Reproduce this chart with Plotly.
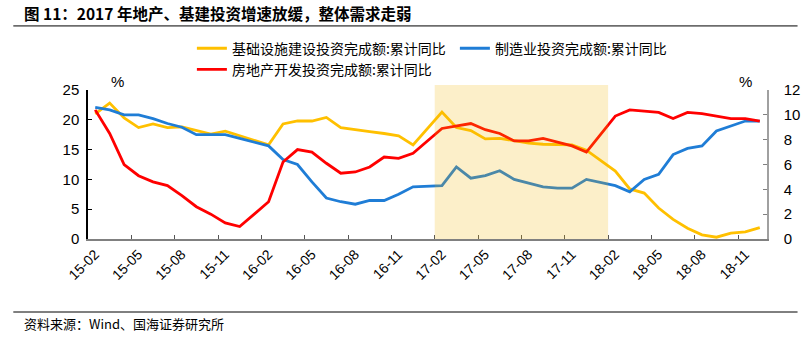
import plotly.graph_objects as go

months = ["15-02","15-03","15-04","15-05","15-06","15-07","15-08","15-09","15-10","15-11","15-12",
          "16-01","16-02","16-03","16-04","16-05","16-06","16-07","16-08","16-09","16-10","16-11","16-12",
          "17-01","17-02","17-03","17-04","17-05","17-06","17-07","17-08","17-09","17-10","17-11","17-12",
          "18-01","18-02","18-03","18-04","18-05","18-06","18-07","18-08","18-09","18-10","18-11","18-12"]

infra = [21.0, 22.8, 20.3, 18.7, 19.3, 18.7, 18.8, 18.2, 17.6, 18.1, 17.3,
         None, 15.8, 19.3, 19.8, 19.8, 20.4, 18.7, 18.3, 18.0, 17.7, 17.3, 15.8,
         None, 21.3, 18.7, 18.2, 16.8, 16.9, 16.5, 16.1, 15.9, 15.9, 15.8, 14.9,
         None, 11.4, 8.4, 7.7, 5.2, 3.3, 1.8, 0.7, 0.3, 1.0, 1.2, 1.9]

manuf = [10.6, 10.4, 10.0, 10.0, 9.7, 9.3, 9.0, 8.4, 8.4, 8.4, 8.1,
         None, 7.5, 6.4, 6.0, 4.6, 3.3, 3.0, 2.8, 3.1, 3.1, 3.6, 4.2,
         None, 4.3, 5.8, 4.9, 5.1, 5.5, 4.8, 4.5, 4.2, 4.1, 4.1, 4.8,
         None, 4.3, 3.8, 4.8, 5.2, 6.8, 7.3, 7.5, 8.7, 9.1, 9.5, 9.5]

realestate = [10.4, 8.5, 6.0, 5.1, 4.6, 4.3, 3.5, 2.6, 2.0, 1.3, 1.0,
              None, 3.0, 6.2, 7.2, 7.0, 6.1, 5.3, 5.4, 5.8, 6.6, 6.5, 6.9,
              None, 8.9, 9.1, 9.3, 8.8, 8.5, 7.9, 7.9, 8.1, 7.8, 7.5, 7.0,
              None, 9.9, 10.4, 10.3, 10.2, 9.7, 10.2, 10.1, 9.9, 9.7, 9.7, 9.5]

names = ["基础设施建设投资完成额:累计同比", "制造业投资完成额:累计同比", "房地产开发投资完成额:累计同比"]
colors = ["#FFC000", "#1F7DD6", "#FF0000"]

tick_labels = months[::3]
tick_pos = [months.index(m) for m in tick_labels]
xc = [i + 0.5 for i in range(len(months))]

band_start, band_end = "17-02", "18-02"

CJK = "Noto Sans CJK SC"
LAT = "Liberation Sans"

fig = go.Figure()
fig.add_trace(go.Scatter(x=xc, y=infra, name=names[0], mode="lines", connectgaps=True,
                         line=dict(color=colors[0], width=2.8), yaxis="y"))
fig.add_trace(go.Scatter(x=xc, y=manuf, name=names[1], mode="lines", connectgaps=True,
                         line=dict(color=colors[1], width=2.8), yaxis="y2"))
fig.add_trace(go.Scatter(x=xc, y=realestate, name=names[2], mode="lines", connectgaps=True,
                         line=dict(color=colors[2], width=2.8), yaxis="y2"))

fig.add_shape(type="rect", xref="x", yref="paper",
              x0=months.index(band_start), x1=months.index(band_end), y0=0, y1=1.034,
              fillcolor="rgba(240,178,0,0.21)", line=dict(width=0), layer="above")

# rules
fig.add_shape(type="line", xref="paper", yref="paper", x0=-0.11, x1=1.045, y0=1.43, y1=1.43,
              line=dict(color="#000000", width=1))
fig.add_shape(type="line", xref="paper", yref="paper", x0=-0.11, x1=1.045, y0=-0.49, y1=-0.49,
              line=dict(color="#000000", width=1))

fig.add_annotation(text="图 11：2017 年地产、基建投资增速放缓，整体需求走弱", xref="paper", yref="paper",
                   x=-0.0968, y=1.517, xanchor="left", yanchor="middle", showarrow=False,
                   font=dict(family=CJK, size=15.5, color="#000000", weight="bold"))
fig.add_annotation(text="资料来源：Wind、国海证券研究所", xref="paper", yref="paper",
                   x=-0.0968, y=-0.564, xanchor="left", yanchor="middle", showarrow=False,
                   font=dict(family=CJK, size=13, color="#000000"))
fig.add_annotation(text="%", xref="paper", yref="paper", x=0.044, y=1.054, xanchor="center",
                   yanchor="middle", showarrow=False, font=dict(family=LAT, size=15, color="#000000"))
fig.add_annotation(text="%", xref="paper", yref="paper", x=0.969, y=1.054, xanchor="center",
                   yanchor="middle", showarrow=False, font=dict(family=LAT, size=15, color="#000000"))

fig.update_layout(
    width=812, height=343, autosize=False,
    margin=dict(l=88, r=42, t=90, b=104),
    paper_bgcolor="white", plot_bgcolor="white",
    showlegend=True,
    legend=dict(orientation="h", x=0.153, y=1.385, xanchor="left", yanchor="top",
                entrywidth=218, entrywidthmode="pixels", traceorder="normal",
                font=dict(family=CJK, size=14, color="#000000"),
                bgcolor="rgba(0,0,0,0)", itemwidth=30, tracegroupgap=0),
    xaxis=dict(range=[0, len(months)], tickmode="array", tickvals=tick_pos, ticktext=tick_labels,
               tickangle=-45, ticklabelshift=7, ticks="inside", ticklen=4, tickcolor="#555555",
               showline=True, linecolor="#808080", linewidth=1.5, showgrid=False, zeroline=False,
               tickfont=dict(family=LAT, size=14, color="#000000")),
    yaxis=dict(range=[0, 25], dtick=5, ticks="inside", ticklen=4, tickcolor="#000000",
               showline=True, linecolor="#000000", linewidth=1.5, showgrid=False, zeroline=False,
               tickfont=dict(family=LAT, size=15, color="#000000"), ticklabelstandoff=4),
    yaxis2=dict(range=[0, 12], dtick=2, overlaying="y", side="right", ticks="inside", ticklen=4,
                tickcolor="#808080", showline=True, linecolor="#A0A0A0", linewidth=1.5,
                showgrid=False, zeroline=False,
                tickfont=dict(family=LAT, size=15, color="#000000"), ticklabelstandoff=12),
)

fig.write_html("out.html")
